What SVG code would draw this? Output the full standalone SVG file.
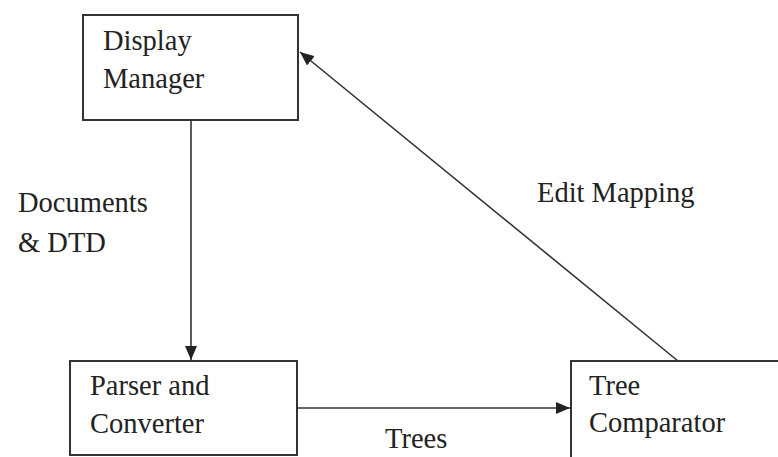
<svg xmlns="http://www.w3.org/2000/svg" width="778" height="457" viewBox="0 0 778 457">
<defs>
<style>
.box{fill:#fff;stroke:#333;stroke-width:2}
.lbl{font-family:"Liberation Serif","Times New Roman",serif;font-size:28.5px;fill:#222}
.con{stroke:#333;stroke-width:1.6;fill:none}
</style>
<marker id="ah" markerWidth="14" markerHeight="12" refX="14" refY="6" orient="auto" markerUnits="userSpaceOnUse">
<path d="M0,0 L14,6 L0,12 Z" fill="#222"/>
</marker>
</defs>
<rect width="778" height="457" fill="#fff"/>
<g id="connectors">
<line class="con" x1="191" y1="121" x2="191" y2="360" marker-end="url(#ah)"/>
<line class="con" x1="298" y1="408" x2="570" y2="408" marker-end="url(#ah)"/>
<line class="con" x1="678" y1="361" x2="300" y2="52" marker-end="url(#ah)"/>
<text class="lbl" x="18" y="212">Documents</text>
<text class="lbl" x="18" y="252">&amp; DTD</text>
<text class="lbl" x="537" y="202">Edit Mapping</text>
<text class="lbl" x="385" y="448">Trees</text>
</g>
<g id="display-manager">
<rect class="box" x="83" y="15" width="215" height="105"/>
<text class="lbl" x="103" y="50">Display</text>
<text class="lbl" x="103" y="88">Manager</text>
</g>
<g id="parser-converter">
<rect class="box" x="70" y="361" width="227" height="94"/>
<text class="lbl" x="90" y="395">Parser and</text>
<text class="lbl" x="90" y="433">Converter</text>
</g>
<g id="tree-comparator">
<rect class="box" x="571" y="361" width="220" height="110"/>
<text class="lbl" x="589" y="395">Tree</text>
<text class="lbl" x="589" y="432">Comparator</text>
</g>
</svg>
